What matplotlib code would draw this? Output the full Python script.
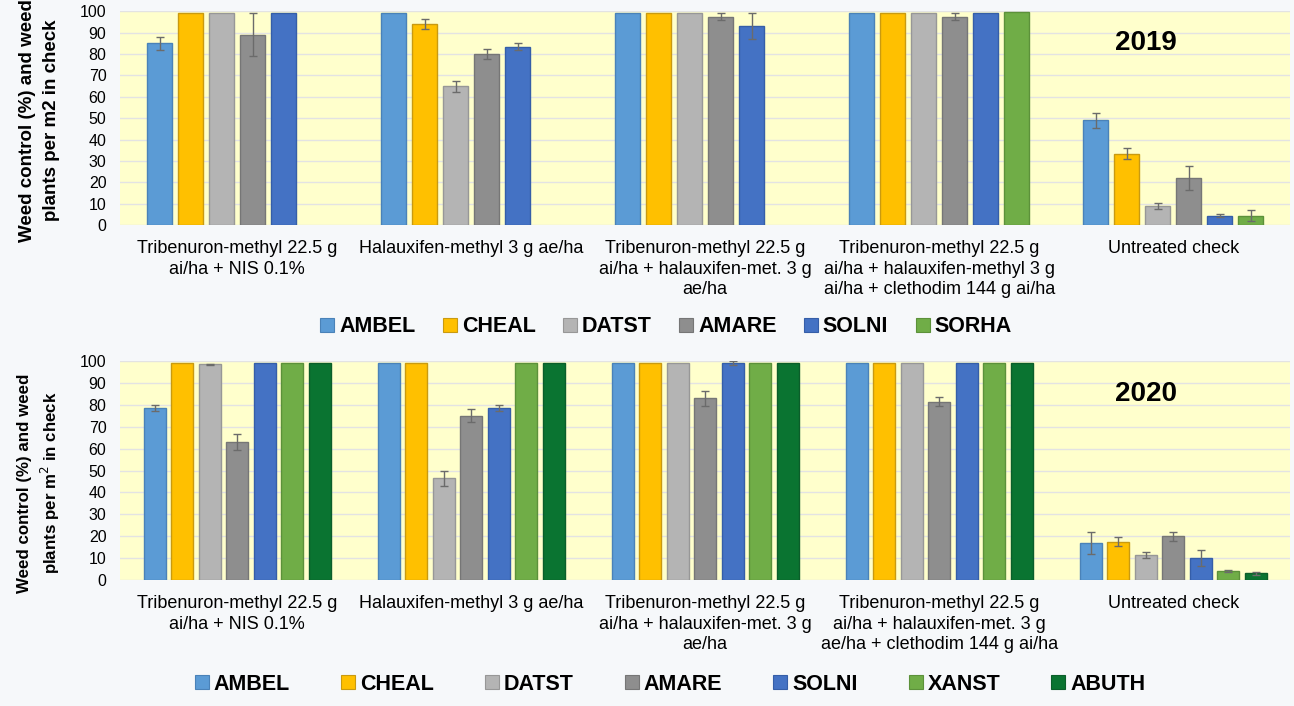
import numpy as np
import matplotlib.pyplot as plt
from matplotlib.lines import Line2D

plt.rcParams['font.family'] = ['Liberation Sans', 'DejaVu Sans']

treat_2019 = ['Tribenuron-methyl 22.5 g\nai/ha + NIS 0.1%',
              'Halauxifen-methyl 3 g ae/ha',
              'Tribenuron-methyl 22.5 g\nai/ha + halauxifen-met. 3 g\nae/ha',
              'Tribenuron-methyl 22.5 g\nai/ha + halauxifen-methyl 3 g\nai/ha + clethodim 144 g ai/ha',
              'Untreated check']
treat_2020 = ['Tribenuron-methyl 22.5 g\nai/ha + NIS 0.1%',
              'Halauxifen-methyl 3 g ae/ha',
              'Tribenuron-methyl 22.5 g\nai/ha + halauxifen-met. 3 g\nae/ha',
              'Tribenuron-methyl 22.5 g\nai/ha + halauxifen-met. 3 g\nae/ha + clethodim 144 g ai/ha',
              'Untreated check']

species_2019 = ['AMBEL', 'CHEAL', 'DATST', 'AMARE', 'SOLNI', 'SORHA']
vals_2019 = {
    'AMBEL': [85, 99, 99, 99, 49],
    'CHEAL': [99, 94, 99, 99, 33.5],
    'DATST': [99, 65, 99, 99, 9],
    'AMARE': [89, 80, 97.5, 97.5, 22],
    'SOLNI': [99, 83.5, 93, 99, 4.5],
    'SORHA': [np.nan, np.nan, np.nan, 99.5, 4.5],
}
err_2019 = {
    'AMBEL': [3, 0, 0, 0, 3.5],
    'CHEAL': [0, 2.5, 0, 0, 2.5],
    'DATST': [0, 2.5, 0, 0, 1.5],
    'AMARE': [10, 2.5, 1.5, 1.5, 5.5],
    'SOLNI': [0, 1.5, 6, 0, 0.8],
    'SORHA': [0, 0, 0, 0, 2.5],
}

species_2020 = ['AMBEL', 'CHEAL', 'DATST', 'AMARE', 'SOLNI', 'XANST', 'ABUTH']
vals_2020 = {
    'AMBEL': [78.5, 99, 99, 99, 17],
    'CHEAL': [99, 99, 99, 99, 17.5],
    'DATST': [98.5, 46.5, 99, 99, 11.5],
    'AMARE': [63, 75, 83, 81.5, 20],
    'SOLNI': [99, 78.5, 99, 99, 10],
    'XANST': [99, 99, 99, 99, 4],
    'ABUTH': [99, 99, 99, 99, 3],
}
err_2020 = {
    'AMBEL': [1.5, 0, 0, 0, 5],
    'CHEAL': [0, 0, 0, 0, 2],
    'DATST': [0.3, 3.5, 0, 0, 1.5],
    'AMARE': [3.5, 3, 3.5, 2, 2],
    'SOLNI': [0, 1.5, 1, 0, 3.5],
    'XANST': [0, 0, 0, 0, 0.5],
    'ABUTH': [0, 0, 0, 0, 0.5],
}

colors = {'AMBEL': '#5B9BD5', 'CHEAL': '#FFC000', 'DATST': '#B4B4B4',
          'AMARE': '#8E8E8E', 'SOLNI': '#4472C4', 'SORHA': '#70AD47',
          'XANST': '#70AD47', 'ABUTH': '#0A7431'}
edges = {'AMBEL': '#4A82B8', 'CHEAL': '#C99A10', 'DATST': '#979797',
         'AMARE': '#767676', 'SOLNI': '#355EA8', 'SORHA': '#5C913A',
         'XANST': '#5C913A', 'ABUTH': '#0B5E2A'}


def draw(ax, treats, species, vals, errs, slot, width, year):
    x = np.arange(len(treats))
    n = len(species)
    for i, sp in enumerate(species):
        pos = x + (i - (n - 1) / 2) * slot
        ax.bar(pos, vals[sp], width, color=colors[sp], edgecolor=edges[sp],
               linewidth=1, zorder=3)
        e = np.array(errs[sp], dtype=float)
        v = np.array(vals[sp], dtype=float)
        m = e > 0
        ax.errorbar(pos[m], v[m], yerr=e[m], fmt='none', ecolor='#6b6b6b',
                    elinewidth=1, capsize=3, capthick=1, zorder=4)
    ax.set_xlim(-0.5, len(treats) - 0.5)
    ax.set_ylim(0, 100)
    ax.set_yticks(range(0, 101, 10))
    ax.set_facecolor('#FFFFCC')
    ax.grid(axis='y', color='#E3E3E3', linewidth=1, zorder=0)
    for s in ax.spines.values():
        s.set_visible(False)
    ax.tick_params(axis='y', length=0, labelsize=11.5, pad=10)
    ax.tick_params(axis='x', length=0, labelsize=13, pad=11)
    ax.set_xticks(x)
    ax.set_xticklabels(treats, linespacing=1.25)
    ax.text(0.877, 0.85, year, transform=ax.transAxes, fontsize=20,
            fontweight='bold', ha='center', va='center')
    handles = [Line2D([], [], marker='s', linestyle='none', markersize=9.5,
                      markerfacecolor=colors[sp], markeredgecolor=edges[sp],
                      markeredgewidth=0.8) for sp in species]
    return handles


fig = plt.figure(figsize=(12.94, 7.06), dpi=100)
fig.patch.set_facecolor('#F6F8FA')

ax1 = fig.add_axes([0.093, 0.681, 0.904, 0.303])
h1 = draw(ax1, treat_2019, species_2019, vals_2019, err_2019, 0.1325, 0.107, '2019')
fig.text(0.0305, 0.829, 'Weed control (%) and weed\nplants per m2 in check',
         rotation=90, ha='center', va='center', multialignment='center',
         fontsize=13.5, fontweight='bold', linespacing=1.55)
fig.legend(h1, species_2019, loc='center', bbox_to_anchor=(0.515, 0.537), ncol=6,
           frameon=False, prop={'weight': 'bold', 'size': 15.5}, handletextpad=0.25,
           handlelength=0.6, columnspacing=1.3)

ax2 = fig.add_axes([0.093, 0.1785, 0.904, 0.310])
h2 = draw(ax2, treat_2020, species_2020, vals_2020, err_2020, 0.1175, 0.094, '2020')
fig.text(0.0305, 0.316, 'Weed control (%) and weed\nplants per m$^2$ in check',
         rotation=90, ha='center', va='center', multialignment='center',
         fontsize=12.2, fontweight='bold', linespacing=1.4)
fig.legend(h2, species_2020, loc='center', bbox_to_anchor=(0.518, 0.031), ncol=7,
           frameon=False, prop={'weight': 'bold', 'size': 15.5}, handletextpad=0.25,
           handlelength=0.6, columnspacing=2.4)

fig.savefig('out.png', dpi=100, facecolor=fig.get_facecolor())
